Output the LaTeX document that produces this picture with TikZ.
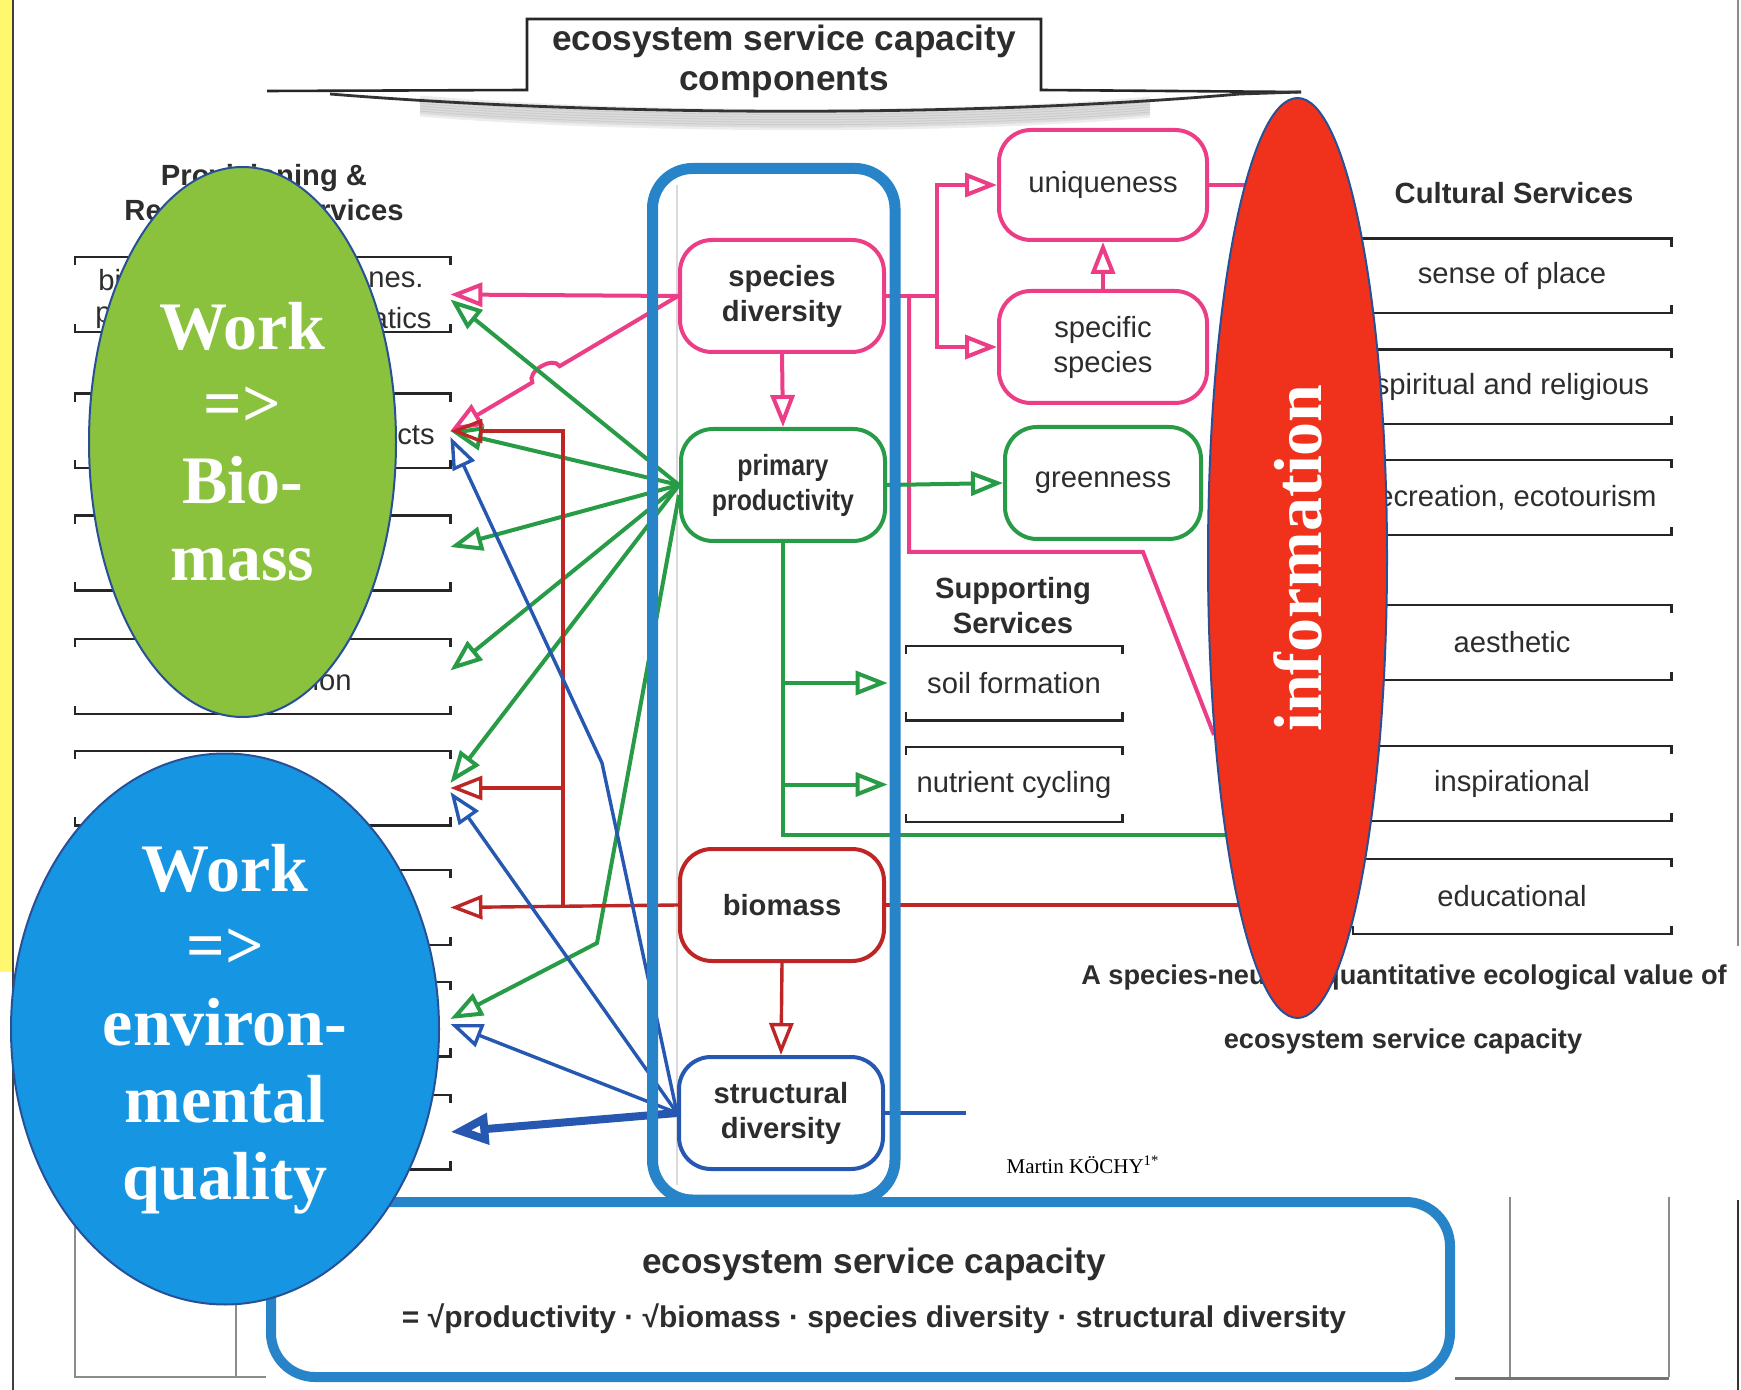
\documentclass[tikz,border=0pt]{standalone}
\usepackage{fontspec}
\setmainfont{Liberation Sans}
\newfontfamily\ellfont{Liberation Serif}
\usetikzlibrary{arrows.meta,calc,shapes.geometric}

\definecolor{espink}{RGB}{236,62,135}
\definecolor{esgreen}{RGB}{40,155,70}
\definecolor{esred}{RGB}{190,38,38}
\definecolor{esblue}{RGB}{38,88,178}
\definecolor{colblue}{RGB}{40,132,200}
\definecolor{leafgreen}{RGB}{138,194,62}
\definecolor{skyblue}{RGB}{22,150,226}
\definecolor{infored}{RGB}{240,50,28}
\definecolor{rimblue}{RGB}{40,80,150}
\definecolor{inkgray}{RGB}{45,45,45}
\definecolor{scanyellow}{RGB}{255,248,110}

\tikzset{
  every node/.style={text=inkgray, inner sep=1pt},
  lbl/.style={font=\fontsize{14.6}{17.5}\selectfont, align=center},
  lblb/.style={font=\fontsize{14.6}{17.5}\selectfont\bfseries, align=center},
  titlefont/.style={font=\fontsize{17.6}{20}\selectfont\bfseries, align=center},
  capfont/.style={font=\fontsize{13.6}{16}\selectfont\bfseries},
  comp/.style={draw, fill=white, line width=2pt, rounded corners=16pt,
    minimum width=102pt, minimum height=56pt},
  servbox/.style={lbl, minimum height=37pt, inner sep=0pt},
  bracket/.style={line width=1.1pt, black!85},
  opentip/.style={-{Triangle[open,length=16pt,width=12pt]}},
  pinkln/.style={draw=espink, line width=2pt},
  pinkarr/.style={pinkln, opentip},
  greenln/.style={draw=esgreen, line width=2pt},
  greenarr/.style={greenln, opentip},
  redln/.style={draw=esred, line width=1.7pt},
  redarr/.style={redln, opentip},
  blueln/.style={draw=esblue, line width=1.7pt},
  bluearr/.style={blueln, opentip},
  bigblue/.style={draw=esblue, line width=4pt, -{Triangle[open,length=19pt,width=15pt]}},
  blob/.style={ellipse, draw=rimblue, line width=1pt, inner sep=0pt, align=center,
    text=white, font=\ellfont\bfseries\fontsize{34}{38.5}\selectfont},
  colframe/.style={draw=colblue, line width=5.5pt, rounded corners=20pt},
}

\newcommand\brackbox[1]{%
  \draw[bracket] ([yshift=-4pt]#1.north west) -- (#1.north west) -- (#1.north east) -- ([yshift=-4pt]#1.north east);
  \draw[bracket] ([yshift=4pt]#1.south west) -- (#1.south west) -- (#1.south east) -- ([yshift=4pt]#1.south east);}

\begin{document}
\begin{tikzpicture}[x=0.5pt,y=-0.5pt]
\useasboundingbox (0,0) rectangle (1741,1390);
\fill[white] (0,0) rectangle (1741,1390);

% scan edges
\fill[scanyellow] (0,0) rectangle (12,972);
\draw[black!75, line width=0.8pt] (13,0) -- (13,1390);
\draw[black!45, line width=0.8pt] (1738,0) -- (1738,946);
\draw[black!80, line width=1pt] (1738,1200) -- (1738,1390);
\draw[black!45, line width=0.8pt] (75,1200) -- (75,1377) -- (266,1377);
\draw[black!45, line width=0.8pt] (236,1300) -- (236,1377);
\draw[black!45, line width=0.8pt] (1510,1197) -- (1510,1377);
\draw[black!45, line width=0.8pt] (1669,1197) -- (1669,1377);
\draw[black!55, line width=1.5pt] (1455,1378) -- (1669,1378);

% header
\foreach \k in {1,...,7}
  \draw[black, opacity=0.07, line width=3pt] (420,{96+2.5*\k}) .. controls (620,{113+2.5*\k}) and (950,{115+2.5*\k}) .. (1150,{97+2.5*\k});
\draw[black!85, line width=1.3pt] (267,91) -- (527,90) -- (527,19) -- (1041,19) -- (1041,90) -- (1301,92);
\draw[black!80, line width=1.4pt] (330,94) .. controls (600,116) and (960,118) .. (1240,94) -- (1301,92);
\node[titlefont] (hdr) at (784,61) {ecosystem service capacity\\components};

% service boxes
\foreach \n/\y in {1/294.5,2/431,3/553,4/676.5,5/788,6/907.5,7/1019,8/1132}
  \node[servbox, minimum width=187.5pt] (p\n) at (262.5,\y) {};
\foreach \n/\y/\t in {1/276/sense of place,2/387/spiritual and religious,3/497.5/{recreation, ecotourism},4/642.5/aesthetic,5/783.5/inspirational,6/896.5/educational}
  \node[servbox, minimum width=159pt] (c\n) at (1512,\y) {\t};
\node[servbox, minimum width=108pt] (sf) at (1014,683) {soil formation};
\node[servbox, minimum width=108pt] (nc) at (1014,784.5) {nutrient cycling};
\foreach \b in {p1,p2,p3,p4,p5,p6,p7,p8,c1,c2,c3,c4,c5,c6,sf,nc}
  {\brackbox{\b}}

\node[lbl, anchor=west] (p1a) at (96,280) {bi};
\node[lbl, anchor=west] (p1b) at (366,280) {nes.};
\node[lbl, anchor=west] (p1c) at (93,318) {p};
\node[lbl, anchor=east] (p1d) at (434,318) {atics};
\node[lbl, anchor=east] (p2a) at (437,435) {cts};
\node[lbl, anchor=east] (p4a) at (354,680) {ion};

\node[lblb] (provhd) at (264,196) {Provisioning \&\\Regulating Services};
\node[lblb] (supphd) at (1013,606) {Supporting\\Services};
\node[lblb] (culthd) at (1514,193) {Cultural Services};

\node[capfont] (cap1) at (1404,978) {A species-neutral, quantitative ecological value of};
\node[capfont] (cap2) at (1403,1041) {ecosystem service capacity};

% components
\draw[black!15, line width=0.8pt] (677,185) -- (677,1185);
\node[comp, draw=espink, lblb] (sd) at (782,296) {species\\diversity};
\node[comp, draw=esgreen, lblb] (pp) at (783,485) {\scalebox{0.85}[1]{primary}\\\scalebox{0.85}[1]{productivity}};
\node[comp, draw=esred, lblb] (bm) at (782,905) {biomass};
\node[comp, draw=esblue, lblb] (st) at (781,1113) {structural\\diversity};
\node[comp, draw=espink, lbl, minimum width=104pt, minimum height=55pt] (uq) at (1103,185) {uniqueness};
\node[comp, draw=espink, lbl, minimum width=104pt] (ss) at (1103,347) {specific\\species};
\node[comp, draw=esgreen, lbl, minimum width=98pt] (gn) at (1103,483) {greenness};

\coordinate (pjoin) at (937,296);
\coordinate (pdrop) at (909,296);
\coordinate (pbend) at (1143,552);
\coordinate (pinfo) at (1214,735);
\coordinate (pinfoU) at (1250,185);
\coordinate (gbend) at (597,943);
\coordinate (infoG) at (1226,835);
\coordinate (rjoin) at (563,907);
\coordinate (infoR) at (1240,905);
\coordinate (bkink) at (602,763);
\coordinate (bstub) at (966,1113);

% pink
\draw[pinkarr] (sd.west) -- (p1.east);
\draw[pinkarr] (sd.west) -- ($(sd.west)!0.52!(p2.east)$) to[bend right=90] ($(sd.west)!0.64!(p2.east)$) -- (p2.east);
\draw[pinkln] (sd.east) -- (pjoin);
\draw[pinkarr] (pjoin) |- (uq.west);
\draw[pinkarr] (pjoin) |- (ss.west);
\draw[pinkarr] (sd.south) -- (pp.north);
\draw[pinkarr] (ss.north) -- (uq.south);
\draw[pinkln] (uq.east) -- (pinfoU);
\draw[pinkln] (pdrop) |- (pbend) -- (pinfo);

% green
\draw[greenarr] (pp.west) -- ([yshift=-2.5pt]p1.east);
\draw[greenarr] (pp.west) -- (p2.east);
\draw[greenarr] (pp.west) -- ([yshift=3pt]p3.east);
\draw[greenarr] (pp.west) -- ([yshift=3pt]p4.east);
\draw[greenarr] (pp.west) -- ([yshift=2.5pt]p5.east);
\draw[greenarr] ([yshift=-5pt]pp.west) -- (gbend) -- (p7.east);
\draw[greenarr] (pp.east) -- (gn.west);
\draw[greenln] (pp.south) |- (infoG);
\draw[greenarr] (pp.south |- sf.west) -- ([xshift=-9pt]sf.west);
\draw[greenarr] (pp.south |- nc.west) -- ([xshift=-9pt]nc.west);

% red
\draw[redarr] (bm.west) -- (p6.east);
\draw[redarr] (rjoin) |- (p2.east);
\draw[redarr] (rjoin) |- (p5.east);
\draw[redarr] (bm.south) -- (st.north);
\draw[redln] (bm.east) -- (infoR);

% blue
\draw[bluearr] (st.west) -- (bkink) -- ([yshift=-3pt]p2.east);
\draw[bluearr] (st.west) -- ([yshift=-2pt]p5.east);
\draw[bluearr] (st.west) -- ([yshift=-2.5pt]p7.east);
\draw[bigblue] (st.west) -- (p8.east);
\draw[blueln] (st.east) -- (bstub);

\draw[colframe] (652.5,168.5) rectangle (895,1200);

% formula box
\draw[colframe, line width=5pt, fill=white, rounded corners=22pt] (271,1202) rectangle (1450,1377);
\node[titlefont] (esc) at (874,1264) {ecosystem service capacity};
\node[font=\fontsize{15}{18}\selectfont\bfseries] (escf) at (874,1319) {= √productivity · √biomass · species diversity · structural diversity};

% ellipses
\node[blob, fill=leafgreen, minimum width=153.5pt, minimum height=275pt] (biowork) at (242.5,442) {Work\\=>\\Bio-\\mass};
\node[blob, fill=skyblue, minimum width=214pt, minimum height=275.5pt] (envwork) at (225,1029) {Work\\=>\\environ-\\mental\\quality};
\node[blob, fill=infored, minimum width=89.5pt, minimum height=460pt] (info) at (1297.5,558) {\rotatebox{90}{information}};

\node[font=\ellfont\fontsize{10.5}{12}\selectfont, text=black] (author) at (1083,1165) {Martin KÖCHY\textsuperscript{1*}};
\end{tikzpicture}
\end{document}
